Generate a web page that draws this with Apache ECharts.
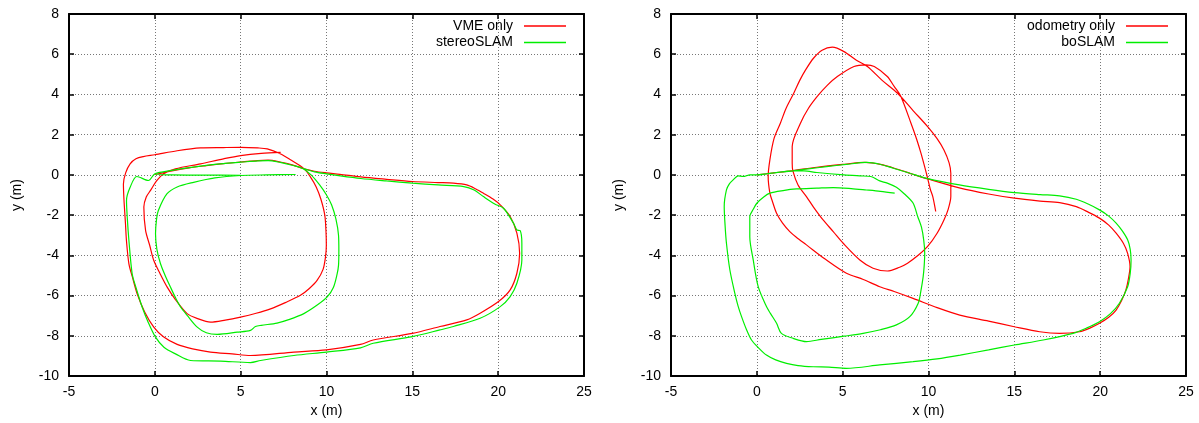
<!DOCTYPE html>
<html><head><meta charset="utf-8">
<script src="https://cdn.jsdelivr.net/npm/echarts@6/dist/echarts.min.js"></script>
<style>html,body{margin:0;padding:0;background:#fff}#c{width:1199px;height:423px}</style>
</head><body><div id="c"></div>
<script>
// ---- tick values ----
const xTickValues = [-5, 0, 5, 10, 15, 20, 25];
const yTickValues = [-10, -8, -6, -4, -2, 0, 2, 4, 6, 8];
const xAxisTitle = 'x (m)';
const yAxisTitle = 'y (m)';

// ---- left panel ----
const vmeOnly = [
  [0,0.02],[1,0.2],[2,0.35],[3,0.46],[4,0.56],[5,0.64],[6,0.71],[6.6,0.73],[7.3,0.64],[8,0.5],[8.7,0.3],
  [9.3,0.18],[10,0.1],[10.78,0.03],[12,-0.1],[13.5,-0.22],[15,-0.33],[16.5,-0.38],[17.39,-0.41],[18.17,-0.5],
  [18.7,-0.7],[19.14,-0.91],[19.7,-1.2],[20.12,-1.49],[20.7,-2.07],[21.09,-2.9],[21.25,-3.9],[21.09,-4.89],
  [20.7,-5.72],[20.02,-6.3],[18.95,-6.88],[18.17,-7.21],[16.61,-7.54],[15,-7.88],[12.72,-8.21],[11.98,-8.43],
  [10,-8.7],[8.1,-8.81],[5.57,-8.98],[4.5,-8.9],[3.24,-8.81],[2.2,-8.65],[1.3,-8.43],[0.5,-8.05],[-0.06,-7.57],
  [-0.6,-6.8],[-1.03,-5.91],[-1.3,-5.1],[-1.51,-4.42],[-1.65,-3.3],[-1.71,-2.43],[-1.8,-1.2],[-1.83,-0.45],
  [-1.7,0.1],[-1.44,0.55],[-1.1,0.8],[-0.67,0.91],[0,1.0],[1.3,1.2],[2.66,1.34],[4,1.36],[5,1.37],[6,1.34],
  [6.55,1.29],[7.3,1.05],[7.9,0.75],[8.7,0.3],[9.08,-0.12],[9.4,-0.6],[9.67,-1.2],[9.9,-2.0],[9.97,-2.8],
  [9.99,-3.5],[9.94,-4.09],[9.8,-4.7],[9.45,-5.25],[9.0,-5.65],[8.48,-5.99],[7.6,-6.35],[6.74,-6.66],[5.9,-6.88],
  [4.99,-7.07],[4.1,-7.22],[3.24,-7.32],[2.5,-7.15],[1.88,-6.9],[1.2,-6.2],[0.72,-5.58],[0.3,-4.9],[-0.06,-4.26],
  [-0.3,-3.5],[-0.54,-2.76],[-0.64,-1.6],[-0.5,-1.1],[-0.25,-0.77],[0.1,-0.3],[0.5,0.05],[1.2,0.3],[2.66,0.55],
  [4,0.8],[5,0.96],[6.2,1.07],[7.33,1.12]
];
const stereoSLAM = [
  [5,-0.02],[3,-0.01],[1,0],[0,0.05],[1,0.22],[2,0.36],[3,0.47],[4,0.56],[5,0.63],[6,0.7],[6.6,0.71],[7.3,0.62],
  [8,0.48],[8.6,0.33],[9.3,0.15],[10,0.05],[10.8,-0.05],[12,-0.18],[13.5,-0.3],[15,-0.41],[16.5,-0.5],[18,-0.58],
  [18.6,-0.75],[19.14,-1.08],[19.8,-1.45],[20.31,-1.66],[20.89,-2.4],[21.09,-2.74],[21.28,-2.77],[21.38,-3.4],
  [21.38,-4.23],[21.09,-5.39],[20.7,-6.05],[20.12,-6.55],[18.95,-7.13],[17.39,-7.54],[16.61,-7.71],[15,-8.04],
  [12.72,-8.37],[11.98,-8.6],[10,-8.81],[8.1,-8.98],[6.16,-9.23],[5.57,-9.33],[3.83,-9.26],[2.08,-9.23],
  [1.2,-8.9],[0.53,-8.57],[0.04,-8.07],[-0.4,-7.3],[-0.74,-6.57],[-1.1,-5.6],[-1.32,-4.92],[-1.51,-3.26],
  [-1.6,-2.2],[-1.65,-1.27],[-1.44,-0.62],[-1.05,-0.08],[-0.37,-0.28],[0,0.05],[1,0.22],[2,0.36],[3,0.47],
  [4,0.56],[5,0.63],[6,0.7],[6.6,0.71],[7.3,0.62],[8,0.48],[8.6,0.33],[9.1,0.0],[9.6,-0.5],[10.0,-1.0],
  [10.3,-1.5],[10.55,-2.2],[10.7,-3.0],[10.72,-3.76],[10.7,-4.5],[10.62,-4.92],[10.4,-5.6],[10.04,-6.07],
  [9.5,-6.45],[8.68,-6.9],[7.8,-7.2],[7.12,-7.37],[6.2,-7.48],[5.86,-7.54],[5.57,-7.73],[4.8,-7.82],[3.63,-7.93],
  [3.0,-7.85],[2.47,-7.57],[1.9,-7.0],[1.5,-6.57],[1.2,-6.1],[0.91,-5.58],[0.6,-5.0],[0.33,-4.42],[0.12,-3.7],
  [0.04,-2.93],[0.1,-2.2],[0.2,-1.78],[0.7,-0.95],[1.3,-0.6],[2.26,-0.37],[3.5,-0.15],[5,-0.03],[6.5,0],[8.2,0.02]
];

// ---- right panel ----
const odometryOnly = [
  [0,0],[1,0.1],[2,0.2],[3.5,0.38],[5,0.52],[6.3,0.62],[7.2,0.52],[8.2,0.28],[9.1,0.03],[9.95,-0.2],
  [11.85,-0.66],[13.5,-0.95],[15,-1.16],[16.5,-1.3],[17.64,-1.38],[18.61,-1.58],[19.3,-1.85],[19.96,-2.15],
  [20.5,-2.5],[20.93,-2.9],[21.35,-3.4],[21.6,-3.9],[21.74,-4.56],[21.65,-5.15],[21.5,-5.72],[21.25,-6.25],
  [20.93,-6.72],[20.5,-7.08],[19.96,-7.38],[19.4,-7.62],[18.8,-7.8],[17.64,-7.88],[16.48,-7.8],[15,-7.55],
  [13.5,-7.27],[11.82,-6.97],[10.5,-6.6],[9.1,-6.14],[8,-5.8],[7.16,-5.56],[6.2,-5.2],[5.22,-4.89],[4,-4.2],
  [2.89,-3.48],[2.3,-3.1],[1.92,-2.82],[1.5,-2.4],[1.15,-1.91],[0.9,-1.3],[0.76,-0.91],[0.66,-0.08],[0.76,0.75],
  [1.0,1.8],[1.37,2.57],[1.7,3.3],[2.15,4.06],[2.5,4.7],[2.84,5.22],[3.3,5.8],[3.8,6.2],[4.4,6.35],[5.08,6.13],
  [5.8,5.7],[6.44,5.39],[7.3,4.7],[8.2,4.06],[9.1,3.2],[9.95,2.4],[10.5,1.8],[10.9,1.24],[11.2,0.6],[11.3,0.08],
  [11.3,-1.08],[11.15,-1.7],[10.9,-2.24],[10.5,-2.9],[9.95,-3.56],[9.4,-4.0],[8.78,-4.39],[8.32,-4.59],
  [7.6,-4.78],[6.77,-4.64],[6.0,-4.23],[5.03,-3.4],[4.45,-2.82],[3.86,-2.24],[3.3,-1.6],[2.89,-1.08],
  [2.4,-0.5],[2.1,0.2],[2.06,0.58],[2.06,1.41],[2.54,2.57],[3.0,3.3],[3.52,3.9],[4.1,4.45],[4.69,4.89],
  [5.66,5.39],[6.35,5.47],[6.84,5.39],[7.6,4.89],[8.0,4.4],[8.39,3.9],[8.98,2.57],[9.3,1.8],[9.56,1.08],
  [9.9,0.0],[10.1,-0.7],[10.25,-1.08],[10.42,-1.82]
];
const boSLAM = [
  [0,0],[1,0.1],[2.12,0.2],[3,0.3],[4.06,0.41],[5.2,0.52],[6.4,0.62],[7.17,0.53],[7.95,0.33],[8.92,0.08],
  [9.9,-0.17],[11.8,-0.5],[13.5,-0.72],[15,-0.88],[16.5,-0.98],[17.64,-1.04],[18.61,-1.21],[19.3,-1.45],
  [19.96,-1.74],[20.5,-2.05],[20.93,-2.4],[21.3,-2.8],[21.6,-3.23],[21.75,-3.7],[21.8,-4.23],[21.75,-4.9],
  [21.6,-5.56],[21.12,-6.38],[20.6,-6.9],[19.96,-7.3],[19.2,-7.62],[18.42,-7.88],[16.68,-8.21],[15,-8.46],
  [13.5,-8.7],[11.85,-8.96],[10.5,-9.15],[9.1,-9.29],[7.16,-9.45],[5.22,-9.62],[4.2,-9.56],[3.28,-9.54],
  [2.4,-9.48],[1.73,-9.37],[1.1,-9.2],[0.56,-8.96],[0.1,-8.6],[-0.31,-8.21],[-0.6,-7.7],[-0.89,-7.05],
  [-1.1,-6.5],[-1.28,-5.89],[-1.57,-4.73],[-1.77,-3.4],[-1.85,-2.5],[-1.9,-1.57],[-1.77,-0.75],[-1.6,-0.45],
  [-1.38,-0.25],[-1.09,-0.05],[-0.8,-0.08],[-0.4,0],[0,0],[1,0.1],[2.12,0.2],[2.74,0.2],[3.5,0.12],
  [5.08,0.0],[6.0,-0.05],[6.64,-0.08],[7.16,-0.3],[7.6,-0.41],[8.13,-0.62],[8.6,-0.95],[9.1,-1.4],[9.37,-2.07],
  [9.59,-2.6],[9.72,-3.23],[9.78,-3.9],[9.75,-4.5],[9.69,-5.06],[9.55,-5.8],[9.4,-6.38],[8.91,-7.05],
  [8.13,-7.46],[7.2,-7.7],[6.19,-7.88],[5.08,-8.02],[3.75,-8.18],[2.89,-8.29],[2.12,-8.13],[1.43,-7.88],
  [1.15,-7.38],[0.8,-6.9],[0.56,-6.55],[0.08,-5.56],[-0.21,-4.23],[-0.41,-3.07],[-0.41,-2.07],[-0.2,-1.7],
  [0,-1.41],[0.4,-1.1],[0.76,-0.91],[1.53,-0.78],[2.31,-0.7],[3.5,-0.66],[4.45,-0.63],[5.5,-0.68],[6.38,-0.75],
  [7.2,-0.82],[8.03,-0.91]
];

const seriesNames = ['VME only', 'stereoSLAM', 'odometry only', 'boSLAM'];
const seriesColors = ['#ff0000', '#00ee00', '#ff0000', '#00ee00'];
const seriesData = [vmeOnly, stereoSLAM, odometryOnly, boSLAM];
const seriesGrid = [0, 0, 1, 1];

const FONT = '"Liberation Sans", Arial, Helvetica, sans-serif';
const xMin = xTickValues[0], xMax = xTickValues[xTickValues.length - 1], xInt = xTickValues[1] - xTickValues[0];
const yMin = yTickValues[0], yMax = yTickValues[yTickValues.length - 1], yInt = yTickValues[1] - yTickValues[0];

const grids = [
  { left: 69, top: 14, width: 515, height: 362 },
  { left: 671, top: 14, width: 515, height: 362 }
];

const xAxes = [], yAxes = [];
grids.forEach((g, gi) => {
  xAxes.push({
    type: 'value', gridIndex: gi, position: 'bottom', min: xMin, max: xMax, interval: xInt,
    name: xAxisTitle, nameLocation: 'middle', nameGap: 27,
    nameTextStyle: { fontFamily: FONT, fontSize: 14, color: '#000' },
    axisLine: { show: true, onZero: false, lineStyle: { color: '#000', width: 2 } },
    axisTick: { show: true, inside: true, length: 5, lineStyle: { color: '#000', width: 1.5 } },
    axisLabel: { margin: 9, fontFamily: FONT, fontSize: 14, color: '#000' },
    splitLine: { show: true, lineStyle: { color: '#777', width: 1, type: [1, 2] } }
  });
  xAxes.push({
    type: 'value', gridIndex: gi, position: 'top', min: xMin, max: xMax, interval: xInt,
    axisLine: { show: true, onZero: false, lineStyle: { color: '#000', width: 2 } },
    axisTick: { show: true, inside: true, length: 5, lineStyle: { color: '#000', width: 1.5 } },
    axisLabel: { show: false }, splitLine: { show: false }
  });
  yAxes.push({
    type: 'value', gridIndex: gi, position: 'left', min: yMin, max: yMax, interval: yInt,
    name: yAxisTitle, nameLocation: 'middle', nameGap: 45,
    nameTextStyle: { fontFamily: FONT, fontSize: 14, color: '#000' },
    axisLine: { show: true, onZero: false, lineStyle: { color: '#000', width: 2 } },
    axisTick: { show: true, inside: true, length: 5, lineStyle: { color: '#000', width: 1.5 } },
    axisLabel: { margin: 10, fontFamily: FONT, fontSize: 14, color: '#000' },
    splitLine: { show: true, lineStyle: { color: '#777', width: 1, type: [1, 2] } }
  });
  yAxes.push({
    type: 'value', gridIndex: gi, position: 'right', min: yMin, max: yMax, interval: yInt,
    axisLine: { show: true, onZero: false, lineStyle: { color: '#000', width: 2 } },
    axisTick: { show: true, inside: true, length: 5, lineStyle: { color: '#000', width: 1.5 } },
    axisLabel: { show: false }, splitLine: { show: false }
  });
});

const series = seriesNames.map((n, i) => ({
  name: n, type: 'line', data: seriesData[i],
  xAxisIndex: seriesGrid[i] * 2, yAxisIndex: seriesGrid[i] * 2,
  showSymbol: false, symbol: 'none', smooth: 0.3, clip: true,
  lineStyle: { color: seriesColors[i], width: 1.2 },
  itemStyle: { color: seriesColors[i] },
  emphasis: { disabled: true }
}));

const legendRight = [633, 31];
const legendTop = [19, 35.5];
const legends = seriesNames.map((n, i) => ({
  data: [n], orient: 'vertical', align: 'right',
  right: legendRight[seriesGrid[i]], top: legendTop[i % 2], padding: 0,
  icon: 'rect', itemWidth: 42, itemHeight: 1.5,
  selectedMode: false,
  textStyle: { fontFamily: FONT, fontSize: 14, color: '#000', padding: [0, 6, 0, 0] }
}));

const chart = echarts.init(document.getElementById('c'), null, { renderer: 'canvas' });
chart.setOption({
  animation: false,
  backgroundColor: '#fff',
  grid: grids,
  xAxis: xAxes,
  yAxis: yAxes,
  legend: legends,
  series: series
});
</script>
</body></html>
